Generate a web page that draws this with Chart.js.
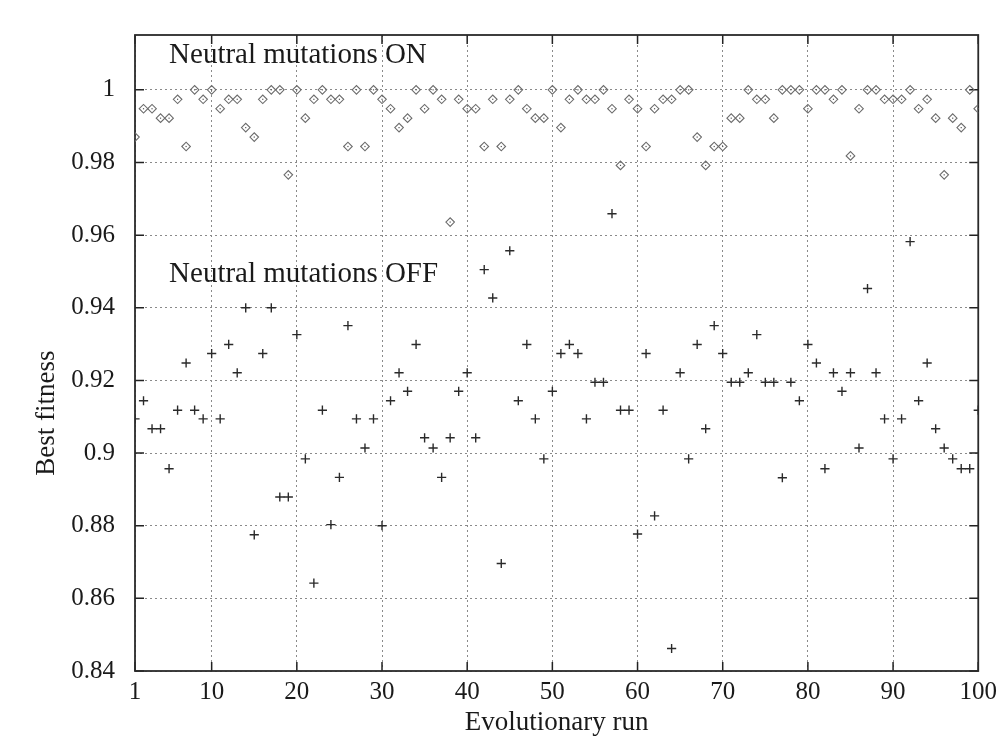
<!DOCTYPE html>
<html><head><meta charset="utf-8">
<script src="https://cdn.jsdelivr.net/npm/chart.js@4.4.1/dist/chart.umd.min.js"></script>
<style>html,body{margin:0;padding:0;background:#fff;}#wrap{width:1003px;height:749px;}</style>
</head><body><div id="wrap"><canvas id="c" width="1003" height="749"></canvas></div>
<script>
const runs = [1,2,3,4,5,6,7,8,9,10,11,12,13,14,15,16,17,18,19,20,21,22,23,24,25,26,27,28,29,30,31,32,33,34,35,36,37,38,39,40,41,42,43,44,45,46,47,48,49,50,51,52,53,54,55,56,57,58,59,60,61,62,63,64,65,66,67,68,69,70,71,72,73,74,75,76,77,78,79,80,81,82,83,84,85,86,87,88,89,90,91,92,93,94,95,96,97,98,99,100];
const fitnessOn = [0.987,0.9948,0.9948,0.9922,0.9922,0.9974,0.9844,1,0.9974,1,
0.9948,0.9974,0.9974,0.9896,0.987,0.9974,1,1,0.9766,1,
0.9922,0.9974,1,0.9974,0.9974,0.9844,1,0.9844,1,0.9974,
0.9948,0.9896,0.9922,1,0.9948,1,0.9974,0.9636,0.9974,0.9948,
0.9948,0.9844,0.9974,0.9844,0.9974,1,0.9948,0.9922,0.9922,1,
0.9896,0.9974,1,0.9974,0.9974,1,0.9948,0.9792,0.9974,0.9948,
0.9844,0.9948,0.9974,0.9974,1,1,0.987,0.9792,0.9844,0.9844,
0.9922,0.9922,1,0.9974,0.9974,0.9922,1,1,1,0.9948,
1,1,0.9974,1,0.9818,0.9948,1,1,0.9974,0.9974,
0.9974,1,0.9948,0.9974,0.9922,0.9766,0.9922,0.9896,1,0.9948];
const fitnessOff = [0.9094,0.9144,0.9067,0.9067,0.8957,0.9118,0.9248,0.9118,0.9094,0.9274,
0.9094,0.9299,0.9221,0.94,0.8775,0.9274,0.94,0.8879,0.8879,0.9326,
0.8984,0.8642,0.9118,0.8803,0.8933,0.9351,0.9094,0.9014,0.9094,0.88,
0.9144,0.9221,0.917,0.9299,0.9042,0.9014,0.8933,0.9042,0.917,0.9221,
0.9042,0.9505,0.9427,0.8696,0.9557,0.9144,0.9299,0.9094,0.8984,0.917,
0.9274,0.9299,0.9274,0.9094,0.9195,0.9195,0.9659,0.9118,0.9118,0.8777,
0.9274,0.8827,0.9118,0.8462,0.9221,0.8984,0.9299,0.9067,0.9351,0.9274,
0.9195,0.9195,0.9221,0.9326,0.9195,0.9195,0.8932,0.9195,0.9144,0.9299,
0.9248,0.8957,0.9221,0.917,0.9221,0.9014,0.9453,0.9221,0.9094,0.8984,
0.9094,0.9582,0.9144,0.9248,0.9067,0.9014,0.8984,0.8957,0.8957,0.9118];
const xTickValues = [1,10,20,30,40,50,60,70,80,90,100];
const yTickValues = [0.84,0.86,0.88,0.9,0.92,0.94,0.96,0.98,1];
const yTickLabels = ['0.84','0.86','0.88','0.9','0.92','0.94','0.96','0.98','1'];
const seriesLabels = ['Neutral mutations ON','Neutral mutations OFF'];
const seriesLabelAnchors = [{x:5,y:1.0074},{x:5,y:0.9472}];
const xTitle = 'Evolutionary run';
const yTitle = 'Best fitness';
const yTitleAnchor = 0.911;

const FONT = '"Liberation Serif","Times New Roman",serif';
const TXT = '#1a1a1a';

const decor = {
  id:'decor',
  beforeDatasetsDraw(chart){
    const {ctx, chartArea:a, scales:{x,y}} = chart;
    ctx.save();
    ctx.strokeStyle = '#222';
    ctx.lineWidth = 1.5;
    ctx.beginPath();
    const tl = 9;
    xTickValues.forEach(v=>{
      const px = x.getPixelForValue(v);
      ctx.moveTo(px,a.bottom); ctx.lineTo(px,a.bottom-tl);
      ctx.moveTo(px,a.top); ctx.lineTo(px,a.top+tl);
    });
    yTickValues.forEach(v=>{
      const py = y.getPixelForValue(v);
      ctx.moveTo(a.left,py); ctx.lineTo(a.left+tl,py);
      ctx.moveTo(a.right,py); ctx.lineTo(a.right-tl,py);
    });
    ctx.stroke();
    ctx.lineWidth = 1.8;
    ctx.strokeStyle = '#2a2a2a';
    ctx.strokeRect(a.left, a.top, a.right-a.left, a.bottom-a.top);
    ctx.fillStyle = TXT;
    ctx.font = '29px ' + FONT;
    ctx.textBaseline = 'alphabetic';
    ctx.textAlign = 'left';
    seriesLabels.forEach((t,i)=>{
      ctx.fillText(t, x.getPixelForValue(seriesLabelAnchors[i].x), y.getPixelForValue(seriesLabelAnchors[i].y));
    });
    // y axis title
    ctx.translate(a.left - 88, y.getPixelForValue(yTitleAnchor));
    ctx.rotate(-Math.PI/2);
    ctx.font = '27px ' + FONT;
    ctx.textAlign = 'center';
    ctx.textBaseline = 'middle';
    ctx.fillText(yTitle, 0, 0);
    ctx.restore();
  },
  afterDatasetsDraw(chart){
    const {ctx} = chart;
    ctx.save();
    ctx.fillStyle = '#555';
    chart.getDatasetMeta(0).data.forEach(p=>{
      ctx.fillRect(p.x-0.6,p.y-0.6,1.2,1.2);
    });
    ctx.restore();
  }
};

new Chart(document.getElementById('c'), {
  type:'scatter',
  data:{datasets:[
    {label:seriesLabels[0], data:runs.map((r,i)=>({x:r,y:fitnessOn[i]})), pointStyle:'rectRot', pointRadius:4.3, borderColor:'#6c6c6c', backgroundColor:'rgba(255,255,255,0)', borderWidth:1.1},
    {label:seriesLabels[1], data:runs.map((r,i)=>({x:r,y:fitnessOff[i]})), pointStyle:'cross', pointRadius:4.6, borderColor:'#2a2a2a', backgroundColor:'#2a2a2a', borderWidth:1.4}
  ]},
  options:{
    responsive:false, animation:false, devicePixelRatio:1,
    layout:{padding:{top:33,right:23,left:0,bottom:0}},
    plugins:{legend:{display:false}, tooltip:{enabled:false}},
    scales:{
      x:{type:'linear', min:1, max:100,
        afterBuildTicks(s){ s.ticks = xTickValues.map(v=>({value:v})); },
        afterFit(s){ s.height = 78; },
        ticks:{font:{family:FONT,size:25}, color:TXT, padding:6, maxRotation:0, autoSkip:false},
        grid:{color:'#8a8a8a', lineWidth:1, drawTicks:false},
        border:{display:false, dash:[2,3]},
        title:{display:true, text:xTitle, font:{family:FONT,size:27}, color:TXT, padding:{top:0,bottom:10}}
      },
      y:{type:'linear', min:0.84, max:1.0151,
        afterBuildTicks(s){ s.ticks = yTickValues.map(v=>({value:v})); },
        afterFit(s){ s.width = 135; },
        ticks:{font:{family:FONT,size:25}, color:TXT, padding:20, autoSkip:false,
          callback:(v)=>yTickLabels[yTickValues.indexOf(v)]},
        grid:{color:'#8a8a8a', lineWidth:1, drawTicks:false},
        border:{display:false, dash:[2,3]},
        title:{display:false}
      }
    }
  },
  plugins:[decor]
});
</script></body></html>
